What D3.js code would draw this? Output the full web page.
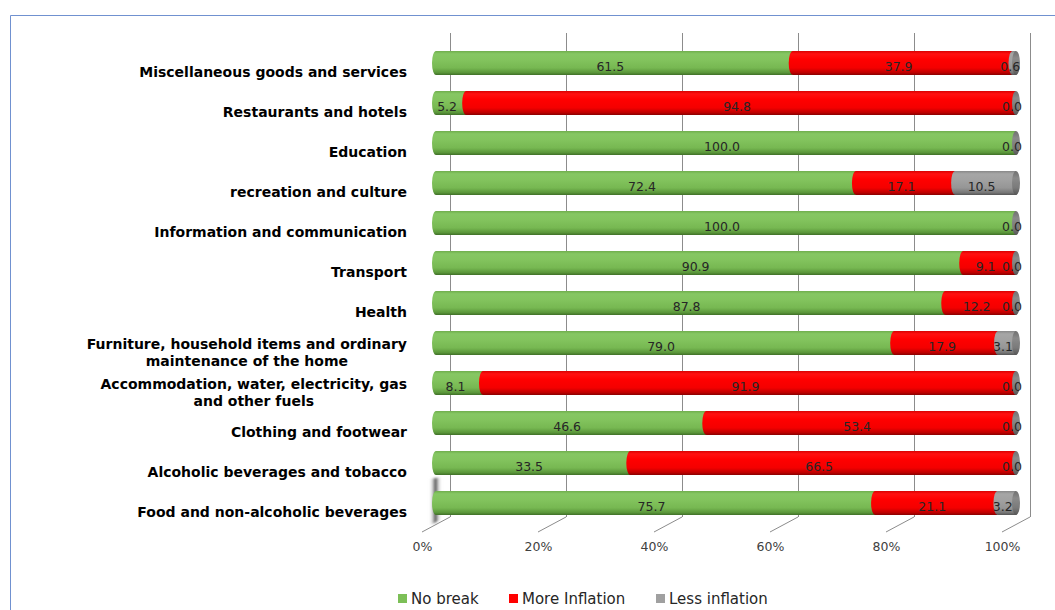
<!DOCTYPE html>
<html>
<head>
<meta charset="utf-8">
<script src="https://cdn.jsdelivr.net/npm/d3@7"></script>
<style>
  html, body { margin: 0; padding: 0; background: #fff; }
  svg { display: block; }
</style>
</head>
<body>
<svg id="chart" width="1055" height="610"></svg>
<script>
// Categories from top to bottom
const categories = [
  "Miscellaneous goods and services",
  "Restaurants and hotels",
  "Education",
  "recreation and culture",
  "Information and communication",
  "Transport",
  "Health",
  "Furniture, household items and ordinary maintenance of the home",
  "Accommodation, water, electricity, gas and other fuels",
  "Clothing and footwear",
  "Alcoholic beverages and tobacco",
  "Food and non-alcoholic beverages"
];
const noBreak       = [61.5, 5.2, 100.0, 72.4, 100.0, 90.9, 87.8, 79.0, 8.1, 46.6, 33.5, 75.7];
const moreInflation = [37.9, 94.8, 0.0, 17.1, 0.0, 9.1, 12.2, 17.9, 91.9, 53.4, 66.5, 21.1];
const lessInflation = [0.6, 0.0, 0.0, 10.5, 0.0, 0.0, 0.0, 3.1, 0.0, 0.0, 0.0, 3.2];
const seriesNames = ["No break", "More Inflation", "Less inflation"];
const tickValues = [0, 20, 40, 60, 80, 100];

const svg = d3.select("#chart");
const FONT = "'DejaVu Sans', sans-serif";

// outer frame (top and left edges)
svg.append("path")
  .attr("d", "M10.5,610 L10.5,15.5 L1055,15.5")
  .attr("fill", "none").attr("stroke", "#7091D0").attr("stroke-width", 1);

// Scales: bars sit at mid-depth, gridlines on back wall, tick labels at front floor edge
const x = d3.scaleLinear().domain([0, 100]).range([436, 1016]);
const xBack = d3.scaleLinear().domain([0, 100]).range([450, 1030]);
const xFront = d3.scaleLinear().domain([0, 100]).range([422, 1002]);
const xLabel = d3.scaleLinear().domain([0, 100]).range([432, 1012]);
const y = d3.scaleBand().domain(categories).range([43, 523]).padding(0);
const barH = y.bandwidth() * 0.6;
const rx = 4;
const gridTop = 33, floorBack = 517, floorFront = 532;

// gradients
const defs = svg.append("defs");
function vGrad(id, stops) {
  const g = defs.append("linearGradient").attr("id", id)
    .attr("x1", 0).attr("y1", 0).attr("x2", 0).attr("y2", 1);
  stops.forEach(s => g.append("stop").attr("offset", s[0]).attr("stop-color", s[1]));
}
vGrad("g0", [[0, "#6FAE4C"], [0.12, "#86C763"], [0.35, "#83C45E"], [0.7, "#77B852"], [0.9, "#5A963A"], [1, "#3F6F27"]]);
vGrad("g1", [[0, "#D80000"], [0.12, "#FF1010"], [0.35, "#FF0000"], [0.7, "#F40000"], [0.9, "#BE0000"], [1, "#880000"]]);
vGrad("g2", [[0, "#888888"], [0.12, "#A6A6A6"], [0.35, "#A2A2A2"], [0.7, "#969696"], [0.9, "#777777"], [1, "#555555"]]);
vGrad("gcap", [[0, "#707070"], [0.3, "#8A8A8A"], [0.7, "#7A7A7A"], [1, "#555555"]]);
const wall = defs.append("linearGradient").attr("id", "wall")
  .attr("x1", 0).attr("y1", 0).attr("x2", 1).attr("y2", 0);
wall.append("stop").attr("offset", 0).attr("stop-color", "#ffffff").attr("stop-opacity", 0);
wall.append("stop").attr("offset", 0.5).attr("stop-color", "#555555").attr("stop-opacity", 1);
wall.append("stop").attr("offset", 1).attr("stop-color", "#ffffff").attr("stop-opacity", 0);
defs.append("filter").attr("id", "soft").attr("x", "-50%").attr("y", "-20%").attr("width", "200%").attr("height", "140%")
  .append("feGaussianBlur").attr("stdDeviation", 1);

// back-wall gridlines and floor edges
const grid = svg.append("g").attr("stroke", "#8C8C8C").attr("stroke-width", 1).attr("fill", "none");
tickValues.forEach(t => {
  grid.append("line")
    .attr("x1", Math.round(xBack(t)) + 0.5).attr("x2", Math.round(xBack(t)) + 0.5)
    .attr("y1", gridTop).attr("y2", floorBack);
  grid.append("line")
    .attr("x1", xBack(t)).attr("y1", floorBack)
    .attr("x2", xFront(t)).attr("y2", floorFront);
});

// soft shadow of the left wall near the floor
svg.append("path")
  .attr("d", `M${x(0) - 7},479 L${x(0) + 6},477 L${x(0) + 6},519 L${x(0) - 7},526 Z`)
  .attr("fill", "url(#wall)").attr("filter", "url(#soft)");

// stacked series
const values = [noBreak, moreInflation, lessInflation];
const rows = categories.map((c, i) => {
  let acc = 0;
  const segs = values.map((arr, s) => {
    const seg = { s, v: arr[i], x0: acc, x1: acc + arr[i] };
    acc += arr[i];
    return seg;
  });
  return { c, segs };
});

// cylinder segment: body plus the rounded left end
function segPath(x0, x1, yc) {
  const t = yc - barH / 2, b = yc + barH / 2, r = barH / 2;
  return `M${x1},${t} L${x0},${t} A${rx},${r} 0 0 0 ${x0},${b} L${x1},${b} Z`;
}

const bars = svg.append("g");
rows.forEach(row => {
  const yc = y(row.c) + y.bandwidth() / 2;
  const g = bars.append("g");
  row.segs.forEach(sg => {
    if (sg.v <= 0) return;
    g.append("path")
      .attr("d", segPath(x(sg.x0), x(sg.x1), yc))
      .attr("fill", `url(#g${sg.s})`);
  });
  // end face of the cylinder
  g.append("ellipse")
    .attr("cx", x(100)).attr("cy", yc)
    .attr("rx", rx).attr("ry", barH / 2)
    .attr("fill", "url(#gcap)");
});

// value labels (zero-length segments at the same spot share one label)
const labels = svg.append("g")
  .attr("font-family", FONT).attr("font-size", 12.5).attr("fill", "#262626")
  .attr("text-anchor", "middle");
rows.forEach(row => {
  const yc = y(row.c) + y.bandwidth() / 2;
  const seen = new Set();
  row.segs.forEach(sg => {
    const lx = xLabel((sg.x0 + sg.x1) / 2);
    const key = lx.toFixed(1) + "|" + sg.v.toFixed(1);
    if (seen.has(key)) return;
    seen.add(key);
    labels.append("text")
      .attr("x", lx)
      .attr("y", yc + 8)
      .text(sg.v.toFixed(1));
  });
});

// category labels (wrapped, right aligned; wrapped lines centred on the block)
const catG = svg.append("g")
  .attr("font-family", FONT).attr("font-size", 14).attr("font-weight", "bold").attr("fill", "#000");
const labelRight = 407, wrapWidth = 326, lineH = 17;
categories.forEach(c => {
  const yc = y(c) + y.bandwidth() / 2;
  const probe = catG.append("text");
  const words = c.split(" ");
  const lines = [];
  let cur = [];
  words.forEach(w => {
    probe.text(cur.concat(w).join(" "));
    if (cur.length && probe.node().getComputedTextLength() > wrapWidth) {
      lines.push(cur.join(" "));
      cur = [w];
    } else cur.push(w);
  });
  lines.push(cur.join(" "));
  probe.remove();
  if (lines.length === 1) {
    catG.append("text").attr("x", labelRight).attr("y", yc + 14)
      .attr("text-anchor", "end").text(lines[0]);
  } else {
    const tmp = catG.append("text").text(lines[0]);
    const w0 = tmp.node().getComputedTextLength();
    tmp.remove();
    const cx = labelRight - w0 / 2;
    lines.forEach((ln, k) => {
      catG.append("text").attr("x", cx)
        .attr("y", yc + 14 - (lines.length - 1) * lineH / 2 + k * lineH)
        .attr("text-anchor", "middle").text(ln);
    });
  }
});

// axis tick labels along the front floor edge
const axisG = svg.append("g").attr("transform", `translate(0,${floorFront})`)
  .call(d3.axisBottom(xFront).tickValues(tickValues).tickSize(0).tickPadding(10)
    .tickFormat(d => d + "%"));
axisG.select(".domain").remove();
axisG.selectAll("text").attr("font-family", FONT).attr("font-size", 12.5).attr("fill", "#404040");

// legend
const legendColors = ["#7CBF57", "#FF0000", "#A0A0A0"];
const legendX = [398, 509, 656];
const leg = svg.append("g").attr("font-family", FONT).attr("font-size", 15).attr("fill", "#262626");
seriesNames.forEach((n, i) => {
  leg.append("rect").attr("x", legendX[i]).attr("y", 594).attr("width", 9).attr("height", 9)
    .attr("fill", legendColors[i]);
  leg.append("text").attr("x", legendX[i] + 13).attr("y", 604).text(n);
});
</script>
</body>
</html>
